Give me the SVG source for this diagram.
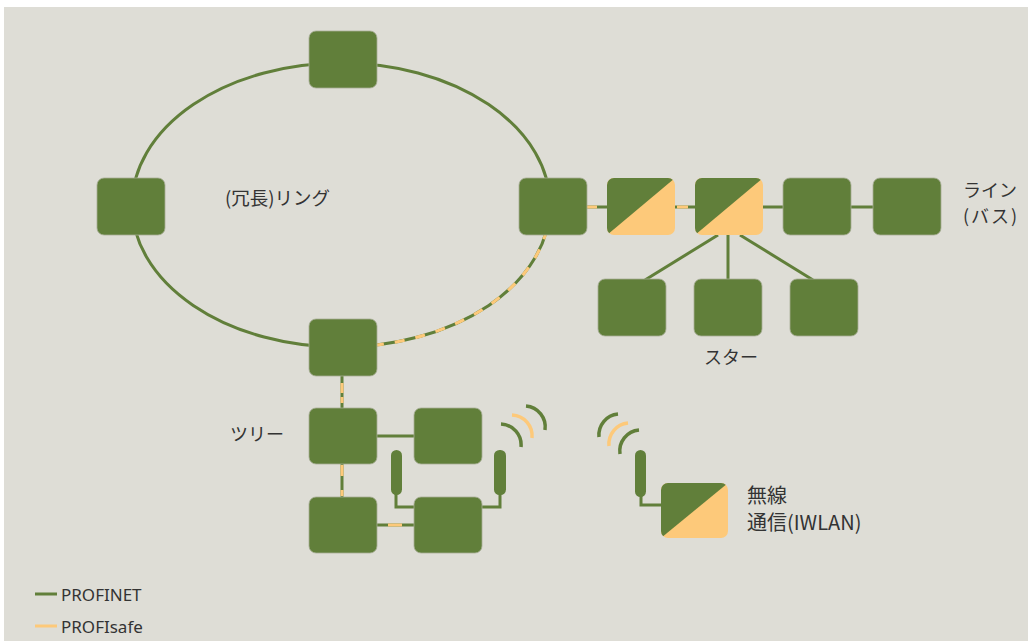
<svg xmlns="http://www.w3.org/2000/svg" width="1028" height="641" viewBox="0 0 1028 641">
<style>
.g{fill:#617F3A}
.o{fill:#FDC97A}
.nb{fill:#617F3A;stroke:#A7AD95;stroke-width:0.8}
.ln{fill:none;stroke:#617F3A;stroke-width:3}
.ls{fill:none;stroke:#FDC97A;stroke-width:3}
.dash{fill:none;stroke:#FDC97A;stroke-width:3;stroke-dasharray:10 11}
.wg{fill:none;stroke:#617F3A;stroke-width:3.5}
.wo{fill:none;stroke:#FDC97A;stroke-width:3.5}
.t{font-family:"Noto Sans CJK JP","Noto Sans",sans-serif;font-size:18px;fill:#333333}
.lg{font-family:"Noto Sans","Liberation Sans",sans-serif;font-size:17px;fill:#333333}
</style>
<defs>
<clipPath id="nc"><rect width="68" height="57" rx="7"/></clipPath>
<clipPath id="wc"><rect width="67" height="55" rx="7"/></clipPath>
</defs>
<rect x="0" y="0" width="1028" height="641" fill="#FFFFFF"/>
<rect x="4" y="7" width="1024" height="634" fill="#DEDDD6"/>

<g id="connectors">
<ellipse class="ln" cx="341" cy="205" rx="209" ry="142"/>
<path class="dash" d="M 546.8 229.7 A 209 142 0 0 1 370.1 345.6"/>
<line class="ln" x1="587" y1="207" x2="873" y2="207"/>
<line class="ls" x1="587" y1="207" x2="597" y2="207"/>
<line class="ls" x1="677" y1="207" x2="688" y2="207"/>
<line class="ln" x1="718" y1="235" x2="645" y2="280"/>
<line class="ln" x1="728" y1="235" x2="728" y2="280"/>
<line class="ln" x1="740" y1="235" x2="813" y2="280"/>
<line class="ln" x1="342" y1="376" x2="342" y2="408"/>
<line class="ls" x1="342" y1="383" x2="342" y2="393"/>
<line class="ls" x1="342" y1="397" x2="342" y2="403"/>
<line class="ln" x1="342" y1="464" x2="342" y2="497"/>
<line class="ls" x1="342" y1="465" x2="342" y2="476"/>
<line class="ls" x1="342" y1="490" x2="342" y2="496"/>
<line class="ln" x1="376" y1="436" x2="414" y2="436"/>
<line class="ln" x1="376" y1="525" x2="414" y2="525"/>
<line class="ls" x1="388" y1="525" x2="402" y2="525"/>
<polyline class="ln" points="396,494 396,507 414,507"/>
<polyline class="ln" points="500,494 500,507 482,507"/>
<polyline class="ln" points="641,496 641,505 661,505"/>
<line class="ln" x1="35" y1="594" x2="57" y2="594"/>
<line class="ls" x1="35" y1="626" x2="57" y2="626"/>
</g>

<g id="ring-top"><rect class="nb" x="309" y="31" width="68" height="57" rx="7"/></g>
<g id="ring-left"><rect class="nb" x="97" y="178" width="68" height="57" rx="7"/></g>
<g id="ring-right"><rect class="nb" x="519" y="178" width="68" height="57" rx="7"/></g>
<g id="ring-bottom"><rect class="nb" x="309" y="319" width="68" height="57" rx="7"/></g>

<g id="line-2" transform="translate(607,178)"><g clip-path="url(#nc)"><rect class="o" width="68" height="57"/><polygon class="g" points="0,0 68,0 0,57"/></g></g>
<g id="line-3" transform="translate(695,178)"><g clip-path="url(#nc)"><rect class="o" width="68" height="57"/><polygon class="g" points="0,0 68,0 0,57"/></g></g>
<g id="line-4"><rect class="nb" x="783" y="178" width="68" height="57" rx="7"/></g>
<g id="line-5"><rect class="nb" x="873" y="178" width="68" height="57" rx="7"/></g>

<g id="star-1"><rect class="nb" x="598" y="279" width="68" height="57" rx="7"/></g>
<g id="star-2"><rect class="nb" x="694" y="279" width="68" height="57" rx="7"/></g>
<g id="star-3"><rect class="nb" x="790" y="279" width="68" height="57" rx="7"/></g>

<g id="tree-1"><rect class="nb" x="309" y="408" width="68" height="56" rx="7"/></g>
<g id="tree-2"><rect class="nb" x="414" y="408" width="68" height="56" rx="7"/></g>
<g id="tree-3"><rect class="nb" x="309" y="497" width="68" height="56" rx="7"/></g>
<g id="tree-4"><rect class="nb" x="414" y="497" width="68" height="56" rx="7"/></g>

<g id="tree-antenna-left"><rect class="g" x="391" y="450" width="11" height="45" rx="5.5"/></g>
<g id="tree-antenna-right">
<rect class="g" x="494" y="450" width="12" height="45" rx="5.5"/>
<path class="wg" d="M 501 424 A 21 21 0 0 1 521 447"/>
<path class="wo" d="M 512 415 A 21 21 0 0 1 532 438"/>
<path class="wg" d="M 526 406 A 21 21 0 0 1 545 430"/>
</g>

<g id="iwlan-antenna">
<rect class="g" x="635" y="450" width="11" height="47" rx="5.5"/>
<path class="wg" d="M 599 437 A 21 21 0 0 1 618 414"/>
<path class="wo" d="M 609 446 A 21 21 0 0 1 628 423"/>
<path class="wg" d="M 620 454 A 21 21 0 0 1 639 430"/>
</g>
<g id="iwlan" transform="translate(661,483)"><g clip-path="url(#wc)"><rect class="o" width="67" height="55"/><polygon class="g" points="0,0 67,0 0,55"/></g></g>

<g id="labels">
<text class="t" x="225" y="205" style="font-size:18.5px">(冗長)リング</text>
<text class="t" x="963" y="197">ライン</text>
<text class="t" x="963" y="223" letter-spacing="2">(バス)</text>
<text class="t" x="704" y="364">スター</text>
<text class="t" x="230" y="441">ツリー</text>
<text class="t" x="747" y="503" style="font-size:20px">無線</text>
<text class="t" x="747" y="530" style="font-size:20px">通信(IWLAN)</text>
</g>
<g id="legend">
<text class="lg" x="61" y="601">PROFINET</text>
<text class="lg" x="61" y="633">PROFIsafe</text>
</g>
</svg>
